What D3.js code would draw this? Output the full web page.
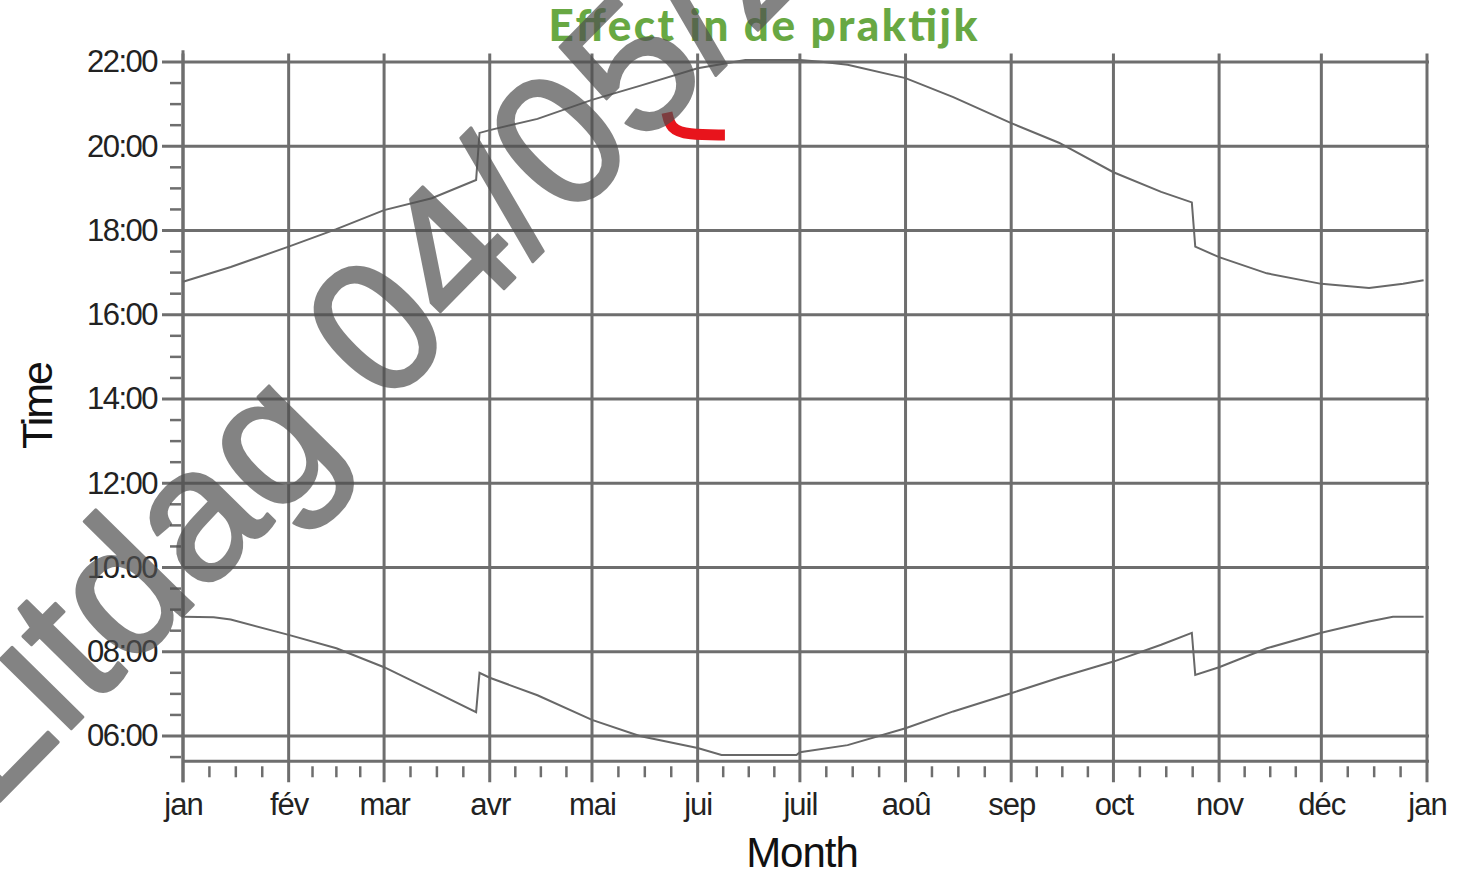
<!DOCTYPE html>
<html>
<head>
<meta charset="utf-8">
<script src="https://cdn.jsdelivr.net/npm/d3@7"></script>
<style>
  body { margin: 0; background: #fff; }
  svg { display: block; }
</style>
</head>
<body>
<div id="chart"></div>
<script>
// zonsondergang (bovenste curve)
const sunsetDates = ["2015-01-01", "2015-01-15", "2015-02-01", "2015-02-15", "2015-03-01", "2015-03-15",
  "2015-03-28", "2015-03-29", "2015-04-01", "2015-04-15", "2015-05-01", "2015-05-15", "2015-06-01",
  "2015-06-15", "2015-07-01", "2015-07-08", "2015-07-15", "2015-08-01", "2015-08-15", "2015-09-01",
  "2015-09-15", "2015-10-01", "2015-10-15", "2015-10-24", "2015-10-25", "2015-11-01", "2015-11-15",
  "2015-12-01", "2015-12-15", "2015-12-25", "2015-12-31"];
const sunsetTimes = ["16:47", "17:08", "17:37", "18:02", "18:29", "18:46",
  "19:12", "20:19", "20:23", "20:39", "21:06", "21:26", "21:51",
  "22:03", "22:03", "22:00", "21:56", "21:37", "21:10", "20:33",
  "20:05", "19:23", "18:55", "18:40", "17:37", "17:22", "16:59",
  "16:44", "16:38", "16:44", "16:49"];

// zonsopgang (onderste curve)
const sunriseDates = ["2015-01-01", "2015-01-10", "2015-01-15", "2015-02-01", "2015-02-15", "2015-03-01",
  "2015-03-15", "2015-03-28", "2015-03-29", "2015-04-01", "2015-04-15", "2015-05-01", "2015-05-15",
  "2015-06-01", "2015-06-08", "2015-06-30", "2015-07-01", "2015-07-15", "2015-08-01", "2015-08-15",
  "2015-09-01", "2015-09-15", "2015-10-01", "2015-10-15", "2015-10-24", "2015-10-25", "2015-11-01",
  "2015-11-15", "2015-12-01", "2015-12-15", "2015-12-22", "2015-12-31"];
const sunriseTimes = ["08:50", "08:49", "08:46", "08:24", "08:05", "07:38",
  "07:05", "06:34", "07:30", "07:23", "06:58", "06:23", "06:00",
  "05:43", "05:33", "05:33", "05:37", "05:47", "06:11", "06:35",
  "07:01", "07:23", "07:46", "08:10", "08:27", "07:27", "07:38",
  "08:05", "08:27", "08:43", "08:50", "08:50"];

const hourTicks = [6, 8, 10, 12, 14, 16, 18, 20, 22];
const hourLabels = ["06:00", "08:00", "10:00", "12:00", "14:00", "16:00", "18:00", "20:00", "22:00"];
const monthLabels = ["jan", "fév", "mar", "avr", "mai", "jui", "juil", "aoû", "sep", "oct", "nov", "déc", "jan"];

// rode markering (datum, uur)
const redMarkDates = ["2015-05-23", "2015-05-24", "2015-05-29", "2015-06-09"];
const redMarkHours = [20.80, 20.42, 20.27, 20.27];

const titleText = "Effect in de praktijk";
const watermarkText = "Litdag 04/05/2023";

/***************************************************************************/
const width = 1473, height = 876;
const parseDate = d3.timeParse("%Y-%m-%d");
const toHours = s => { const [h, m] = s.split(":").map(Number); return h + m / 60; };

const svg = d3.select("#chart").append("svg")
  .attr("width", width)
  .attr("height", height);

const x = d3.scaleTime()
  .domain([new Date(2015, 0, 1), new Date(2016, 0, 1)])
  .range([183, 1427]);
const y = d3.scaleLinear()
  .domain([6, 22])
  .range([736, 62]);

const gridColor = "#6e6e6e";
const left = x.range()[0], right = x.range()[1];
const bottom = y(5.4);

// horizontale rasterlijnen
svg.append("g").selectAll("line")
  .data(hourTicks)
  .join("line")
  .attr("x1", left - 21).attr("x2", right + 2)
  .attr("y1", d => y(d)).attr("y2", d => y(d))
  .attr("stroke", gridColor).attr("stroke-width", 3);

// verticale rasterlijnen per maand
const months = d3.timeMonth.range(x.domain()[0], d3.timeDay.offset(x.domain()[1], 1));
svg.append("g").selectAll("line")
  .data(months)
  .join("line")
  .attr("x1", d => x(d)).attr("x2", d => x(d))
  .attr("y1", y(22.2)).attr("y2", bottom + 21)
  .attr("stroke", gridColor).attr("stroke-width", 3);

// x-as lijn en y-as lijn
svg.append("line")
  .attr("x1", left).attr("x2", right + 2)
  .attr("y1", bottom).attr("y2", bottom)
  .attr("stroke", gridColor).attr("stroke-width", 3);
svg.append("line")
  .attr("x1", left).attr("x2", left)
  .attr("y1", y(22.28)).attr("y2", bottom + 21)
  .attr("stroke", gridColor).attr("stroke-width", 3);

// kleine y-ticks (elk half uur)
const minorHours = d3.range(5.5, 22.01, 0.5).filter(h => !hourTicks.includes(h));
svg.append("g").selectAll("line")
  .data(minorHours)
  .join("line")
  .attr("x1", left - 13).attr("x2", left - 2)
  .attr("y1", d => y(d)).attr("y2", d => y(d))
  .attr("stroke", gridColor).attr("stroke-width", 2.5);

// kleine x-ticks (kwart maand)
const minorDays = [];
months.slice(0, -1).forEach(m => {
  const next = d3.timeMonth.offset(m, 1);
  for (let k = 1; k < 4; k++) minorDays.push(new Date(+m + (next - m) * k / 4));
});
svg.append("g").selectAll("line")
  .data(minorDays)
  .join("line")
  .attr("x1", d => x(d)).attr("x2", d => x(d))
  .attr("y1", bottom + 5).attr("y2", bottom + 16)
  .attr("stroke", gridColor).attr("stroke-width", 2.5);

// y-as labels
const yAxis = svg.append("g")
  .attr("transform", `translate(${left},0)`)
  .call(d3.axisLeft(y).tickValues(hourTicks).tickSize(0).tickPadding(26)
    .tickFormat((d, i) => hourLabels[i]));
yAxis.select(".domain").remove();
yAxis.selectAll("text")
  .attr("font-family", "'Liberation Sans', Arial, sans-serif")
  .attr("font-size", 31)
  .attr("letter-spacing", -1.5)
  .attr("fill", "#222");

// x-as labels
const xAxis = svg.append("g")
  .attr("transform", `translate(0,${bottom})`)
  .call(d3.axisBottom(x).tickValues(months).tickSize(0).tickPadding(32)
    .tickFormat((d, i) => monthLabels[i]));
xAxis.select(".domain").remove();
xAxis.selectAll("text")
  .attr("font-family", "'Liberation Sans', Arial, sans-serif")
  .attr("font-size", 31)
  .attr("letter-spacing", -1)
  .attr("fill", "#222");

// as-titels
svg.append("text")
  .attr("x", 802).attr("y", 867)
  .attr("text-anchor", "middle")
  .attr("font-family", "'Liberation Sans', Arial, sans-serif")
  .attr("font-size", 42)
  .attr("letter-spacing", -1)
  .attr("fill", "#111")
  .text("Month");
svg.append("text")
  .attr("transform", "translate(52,406) rotate(-90)")
  .attr("text-anchor", "middle")
  .attr("font-family", "'Liberation Sans', Arial, sans-serif")
  .attr("font-size", 43)
  .attr("letter-spacing", -2)
  .attr("fill", "#111")
  .text("Time");

// curves
const line = d3.line()
  .x(d => x(d.date))
  .y(d => y(d.hour));
const sunset = sunsetDates.map((d, i) => ({ date: parseDate(d), hour: toHours(sunsetTimes[i]) }));
const sunrise = sunriseDates.map((d, i) => ({ date: parseDate(d), hour: toHours(sunriseTimes[i]) }));
[sunset, sunrise].forEach(s => {
  svg.append("path")
    .datum(s)
    .attr("d", line)
    .attr("fill", "none")
    .attr("stroke", "#686868")
    .attr("stroke-width", 2);
});

// rode markering
const redMark = redMarkDates.map((d, i) => ({ date: parseDate(d), hour: redMarkHours[i] }));
svg.append("path")
  .datum(redMark)
  .attr("d", d3.line().x(d => x(d.date)).y(d => y(d.hour)).curve(d3.curveBasis))
  .attr("fill", "none")
  .attr("stroke", "#e8141c")
  .attr("stroke-width", 11);

// titel
svg.append("text")
  .attr("x", 763).attr("y", 41)
  .attr("text-anchor", "middle")
  .attr("font-family", "Lato, 'Open Sans', sans-serif")
  .attr("font-weight", 900)
  .attr("font-size", 44)
  .attr("textLength", 429)
  .attr("fill", "#68a843")
  .text(titleText);

// watermerk
const wmAngle = -45.5, wmSize = 188;
const rad = wmAngle * Math.PI / 180;
const wmOffset = (0.556 + 0.11) * wmSize;
const wmX = 77 - wmOffset * Math.cos(rad), wmY = 723 - wmOffset * Math.sin(rad);
svg.append("text")
  .attr("transform", `translate(${wmX},${wmY}) rotate(${wmAngle})`)
  .attr("font-family", "'Liberation Sans', Arial, sans-serif")
  .attr("font-size", wmSize)
  .attr("fill", "#505050")
  .attr("stroke", "#505050")
  .attr("stroke-width", 3)
  .attr("stroke-linejoin", "round")
  .attr("opacity", 0.7)
  .text(watermarkText);
</script>
</body>
</html>
